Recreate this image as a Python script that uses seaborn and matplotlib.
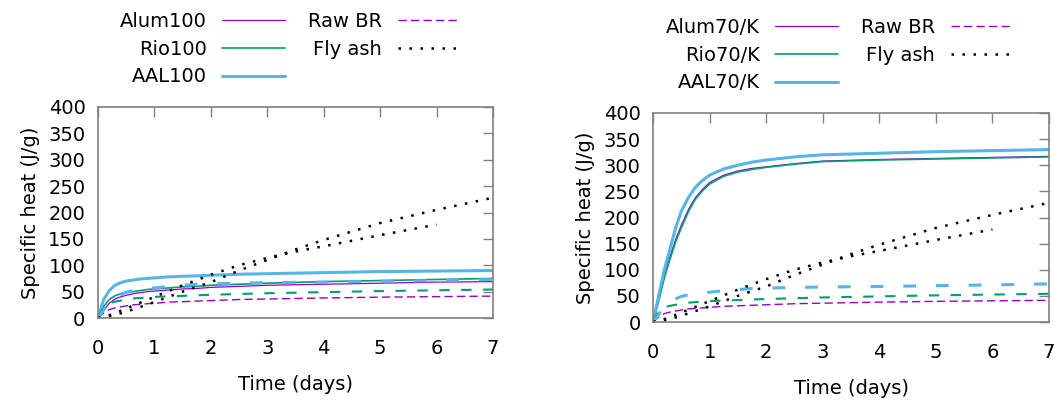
import numpy as np
import pandas as pd
import matplotlib
matplotlib.use('Agg')
import matplotlib.pyplot as plt
import seaborn as sns

# time grid (days) for the calorimetry curves
t = [0, 0.1, 0.2, 0.3, 0.4, 0.5, 0.625, 0.75, 0.875, 1,
     1.25, 1.5, 1.75, 2, 2.5, 3, 4, 5, 6, 7]

# left panel: 100% samples
alum100 = [0, 15, 28, 36, 40, 43, 46, 48, 50, 51, 53, 55, 56, 58, 60, 62, 64, 66, 68, 69]
rio100 = [0, 22, 35, 42, 46, 48, 50, 52, 54, 55, 57, 59, 60, 62, 64, 66, 69, 71, 73, 75]
aal100 = [0, 35, 52, 62, 67, 70, 72, 74, 75, 76, 78, 79, 80, 81, 83, 84, 86, 88, 89, 90]

# right panel: 70/K samples
alum70k = [0, 42, 88, 125, 158, 185, 215, 238, 254, 267, 281, 289, 294, 297, 303, 308, 311, 313, 315, 317]
rio70k = [0, 40, 84, 120, 153, 180, 211, 235, 251, 264, 279, 287, 292, 296, 302, 307, 310, 312, 314, 316]
aal70k = [0, 50, 100, 140, 180, 212, 238, 258, 271, 281, 293, 300, 306, 310, 316, 320, 323, 326, 328, 330]

# raw bauxite residues (dashed), same in both panels
raw_alum = [0, 10, 16, 19, 21, 23, 25, 26, 27, 28, 30, 31, 32, 33, 35, 36, 38, 39.5, 40.5, 41.5]
raw_rio = [0, 22, 28, 31, 33, 35, 37, 38, 39, 40, 41, 42, 43, 44, 45.5, 47, 49, 51, 52.5, 54]
raw_aal = [0, 15, 30, 38, 44, 49, 52, 54, 56, 57, 60, 62, 64, 65, 66, 67, 68, 69.5, 71, 73]

# fly ash references (dotted)
fly_t1 = [0, 0.25, 0.5, 1, 1.5, 2, 2.5, 3, 3.5, 4, 5, 6, 7]
fly_a = [0, 4, 12, 30, 50, 68, 90, 110, 130, 148, 180, 205, 228]
fly_t2 = [0, 0.25, 0.5, 1, 1.5, 2, 2.5, 3, 3.5, 4, 5, 6]
fly_b = [0, 7, 18, 40, 62, 82, 100, 114, 126, 136, 157, 177]

purple = '#9400d3'
green = '#009e73'
blue = '#56b4e9'

sns.set_theme(style='white')
plt.rcParams['font.family'] = ['DejaVu Sans']
plt.rcParams['font.size'] = 14
plt.rcParams['text.color'] = 'black'
plt.rcParams['axes.labelcolor'] = 'black'
plt.rcParams['xtick.labelcolor'] = 'black'
plt.rcParams['ytick.labelcolor'] = 'black'

fig = plt.figure(figsize=(10.59, 4.05), dpi=100)
ax1 = fig.add_axes([98 / 1059, 87 / 405, 395 / 1059, 211 / 405])
ax2 = fig.add_axes([653 / 1059, 83 / 405, 396 / 1059, 209 / 405])


def draw_panel(ax, alum, rio, aal, names, leg_x, leg_y):
    h1 = sns.lineplot(x=t, y=alum, ax=ax, color=purple, linewidth=0.9).lines[-1]
    h2 = sns.lineplot(x=t, y=rio, ax=ax, color=green, linewidth=1.2).lines[-1]
    h3 = sns.lineplot(x=t, y=aal, ax=ax, color=blue, linewidth=2.2).lines[-1]
    h4 = sns.lineplot(x=t, y=raw_alum, ax=ax, color=purple, linewidth=1.0,
                      linestyle=(0, (6, 3))).lines[-1]
    sns.lineplot(x=t, y=raw_rio, ax=ax, color=green, linewidth=1.5,
                 linestyle=(0, (5, 5.5)))
    sns.lineplot(x=t, y=raw_aal, ax=ax, color=blue, linewidth=2.2,
                 linestyle=(0, (4.2, 6.5)))
    h5 = sns.lineplot(x=fly_t1, y=fly_a, ax=ax, color='black', linewidth=1.8,
                      linestyle=(0, (1, 3.4))).lines[-1]
    sns.lineplot(x=fly_t2, y=fly_b, ax=ax, color='black', linewidth=1.8,
                 linestyle=(0, (1, 3.4)))

    ax.set_xlim(0, 7)
    ax.set_ylim(0, 400)
    ax.set_xticks(range(0, 8))
    ax.set_yticks(range(0, 401, 50))
    ax.set_xlabel('Time (days)', fontsize=14, labelpad=12, color='black')
    ax.set_ylabel('Specific heat (J/g)', fontsize=14, labelpad=6, color='black')
    ax.tick_params(direction='in', length=7.5, width=1, color='#808080',
                   labelcolor='black', top=True, right=True, labelsize=14, pad=9)
    ax.tick_params(axis='x', pad=15)
    for s in ax.spines.values():
        s.set_color('#808080')
        s.set_linewidth(1.2)

    leg = ax.legend([h1, h2, h3, h4, h5], names, ncol=2, markerfirst=False,
                    frameon=False, fontsize=14, handlelength=3.2,
                    handletextpad=0.8, columnspacing=1.2, labelspacing=0.45,
                    loc='upper left', bbox_to_anchor=(leg_x, leg_y),
                    bbox_transform=fig.transFigure, borderaxespad=0,
                    borderpad=0)
    for txt in leg.get_texts():
        txt.set_color('black')


draw_panel(ax1, alum100, rio100, aal100,
           ['Alum100', 'Rio100', 'AAL100', 'Raw BR', 'Fly ash'],
           120 / 1059, 1 - 12 / 405)
draw_panel(ax2, alum70k, rio70k, aal70k,
           ['Alum70/K', 'Rio70/K', 'AAL70/K', 'Raw BR', 'Fly ash'],
           666 / 1059, 1 - 18 / 405)

fig.savefig('out.png', dpi=100)
